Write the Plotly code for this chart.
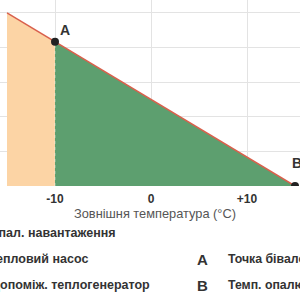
import plotly.graph_objects as go

# Data
temps = [-15, -10, 15]
load = [100, 83.3, 0]
bivalent_temp = -10
tick_vals = [-10, 0, 10]
tick_text = ["-10", "0", "+10"]
legend_left = ["Крива опал. навантаження", "Тепловий насос", "Допоміж. теплогенератор"]
legend_right_keys = ["A", "B"]
legend_right_text = ["Точка бівалентності", "Темп. опалювальної межі"]

ORANGE = "#fcd4a5"
GREEN = "#5d9f6f"
RED = "#d9604c"
DARK = "#222222"
TEXT = "#333333"

fig = go.Figure()

# orange area (-15 .. -10)
fig.add_trace(go.Scatter(x=temps[:2], y=load[:2], fill="tozeroy", fillcolor=ORANGE,
                         mode="lines", line=dict(width=0), hoverinfo="skip"))
# green area (-10 .. 15)
fig.add_trace(go.Scatter(x=temps[1:], y=load[1:], fill="tozeroy", fillcolor=GREEN,
                         mode="lines", line=dict(width=0), hoverinfo="skip"))
# divider
fig.add_trace(go.Scatter(x=[bivalent_temp, bivalent_temp], y=[0, load[1]], mode="lines",
                         line=dict(color="rgba(255,255,255,0.45)", width=1, dash="dot"),
                         hoverinfo="skip"))
# load curve
fig.add_trace(go.Scatter(x=temps, y=load, mode="lines", line=dict(color=RED, width=1.5),
                         hoverinfo="skip"))
# points A and B
fig.add_trace(go.Scatter(x=temps[1:], y=load[1:], mode="markers",
                         marker=dict(color=DARK, size=8), hoverinfo="skip"))

fig.update_layout(
    width=300, height=300, showlegend=False,
    margin=dict(l=0, r=0, t=0, b=114),
    paper_bgcolor="white", plot_bgcolor="white",
    font=dict(family="Liberation Sans, Arial, sans-serif", color=TEXT),
)
fig.update_xaxes(range=[-15.73, 15.52], tickvals=tick_vals, ticktext=tick_text,
                 tickfont=dict(size=12, color=TEXT, family="Liberation Sans, Arial, sans-serif", weight="bold"),
                 showgrid=True, gridcolor="#e3e3e3", gridwidth=1, zeroline=False,
                 showline=False, ticks="", ticklabelstandoff=4)
fig.update_yaxes(range=[0, 107.5], dtick=20, showticklabels=False, showgrid=True,
                 gridcolor="#e3e3e3", gridwidth=1, zeroline=False, showline=False)

H = 186.0
def py(p):
    return (H - p) / H

ann = []
# axis title
ann.append(dict(x=155/300, y=py(213), xref="paper", yref="paper", text="Зовнішня температура (°C)",
                showarrow=False, xanchor="center", yanchor="middle",
                font=dict(size=12.8, color="#555555")))
# A / B point labels
ann.append(dict(x=temps[1], y=load[1], xref="x", yref="y", text="<b>A</b>", showarrow=False,
                xanchor="center", yanchor="middle", xshift=9.5, yshift=12,
                font=dict(size=14, color=TEXT)))
ann.append(dict(x=temps[2], y=load[2], xref="x", yref="y", text="<b>B</b>", showarrow=False,
                xanchor="center", yanchor="middle", xshift=2, yshift=23,
                font=dict(size=14, color=TEXT)))
# left legend texts (right-anchored)
left_right_edges = [118, 90, 152]
rows_y = [233, 259, 285]
for t, xr, yy in zip(legend_left, left_right_edges, rows_y):
    ann.append(dict(x=xr/300, y=py(yy), xref="paper", yref="paper", text="<b>%s</b>" % t,
                    showarrow=False, xanchor="right", yanchor="middle",
                    font=dict(size=12.5, color=TEXT)))
# right legend
for k, t, yy in zip(legend_right_keys, legend_right_text, rows_y[1:]):
    ann.append(dict(x=202/300, y=py(yy), xref="paper", yref="paper", text="<b>%s</b>" % k,
                    showarrow=False, xanchor="center", yanchor="middle",
                    font=dict(size=15, color=TEXT)))
    ann.append(dict(x=226/300, y=py(yy), xref="paper", yref="paper", text="<b>%s</b>" % t,
                    showarrow=False, xanchor="left", yanchor="middle",
                    font=dict(size=12.3, color=TEXT)))
fig.update_layout(annotations=ann)

fig.write_html("out.html")
